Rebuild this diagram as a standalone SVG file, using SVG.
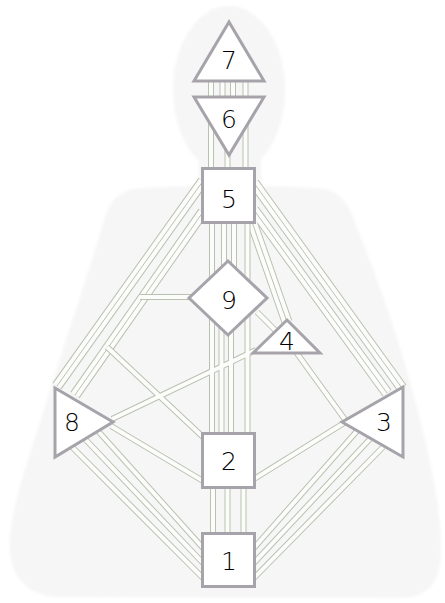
<svg xmlns="http://www.w3.org/2000/svg" xmlns:xlink="http://www.w3.org/1999/xlink" width="445" height="603" viewBox="0 0 445 603">
<defs>
<pattern id="dots" width="3" height="3" patternUnits="userSpaceOnUse">
<rect width="3" height="3" fill="#f8f8f8"/>
<rect x="1" y="1" width="1" height="1" fill="#e4e4e4"/>
</pattern>
<filter id="soft" x="-5%" y="-5%" width="110%" height="110%"><feGaussianBlur stdDeviation="1.5"/></filter>
<g id="singles">
<path d="M211 82V168M245.5 82V168M222.5 82V97M233 82V97M227.5 150V168"/>
<path d="M212 223V433M247.5 223V433M224 223V266M234 223V268M221.5 326V433M231 328V433"/>
<path d="M213 488V533M227.5 488V533M243.5 488V533"/>
<path d="M140 297H191M107 347L203 437M112 419L256 350M111 426L203 481M254 479L344 423M296 352L346 421M257 312L276 331"/>
<path d="M98 431L203 548M85 439L203 563M72 447L203 578M357 431L254 548M370 439L254 563M383 447L254 578"/>
</g>
<g id="doubles">
<path d="M203 181L57 386M203 212L75 395M254 183L402 388M254 210L387 393M252 222L287 322"/>
</g>
</defs>
<style>
.sil{fill:url(#dots)}
.edge{fill:none;stroke:#b9c2b1;stroke-width:6}
.core{fill:none;stroke:#fcfcfa;stroke-width:4}
.edge2{fill:none;stroke:#b9c2b1;stroke-width:11}
.core2{fill:none;stroke:#fcfcfa;stroke-width:9}
.mid2{fill:none;stroke:#b9c2b1;stroke-width:1}
.node{fill:#ffffff;stroke:#a7a3aa;stroke-width:3;stroke-linejoin:miter}
.lbl{font-family:"DejaVu Sans","Liberation Sans",sans-serif;font-weight:300;font-size:25px;fill:#000000;text-anchor:middle}
</style>
<g id="silhouette" filter="url(#soft)">
<ellipse class="sil" cx="229" cy="90" rx="56" ry="84"/>
<rect class="sil" x="199" y="140" width="62" height="52"/>
<path class="sil" d="M200 186L140 188Q112 190 104 220C88 275 67 335 47 400C32 450 12 500 10 540C8 575 25 596 60 597L400 598C430 598 442 580 441 545C440 500 428 450 415 400C397 330 372 265 354 220Q345 190 318 188L260 186Z"/>
</g>
<g id="connectors">
<use xlink:href="#doubles" class="edge2"/>
<use xlink:href="#doubles" class="core2"/>
<use xlink:href="#doubles" class="mid2"/>
<use xlink:href="#singles" class="edge"/>
<use xlink:href="#singles" class="core"/>
</g>
<g id="node7"><polygon class="node" points="229,22 264,81 194,81"/><text class="lbl" x="229" y="69">7</text></g>
<g id="node6"><polygon class="node" points="194,97 264,97 229,155"/><text class="lbl" x="229" y="128">6</text></g>
<g id="node5"><rect class="node" x="202.5" y="168.5" width="52" height="54"/><text class="lbl" x="229" y="208">5</text></g>
<g id="node9"><polygon class="node" points="228,261 267,298 228,335 189,298"/><text class="lbl" x="229" y="309">9</text></g>
<g id="node4"><polygon class="node" points="287,320 320,353 253,353"/><text class="lbl" x="287" y="350">4</text></g>
<g id="node8"><polygon class="node" points="55,388 113,422 55,457"/><text class="lbl" x="72" y="431">8</text></g>
<g id="node3"><polygon class="node" points="403,387 342,422 403,457"/><text class="lbl" x="384" y="431">3</text></g>
<g id="node2"><rect class="node" x="202.5" y="433.5" width="52" height="54"/><text class="lbl" x="229" y="470">2</text></g>
<g id="node1"><rect class="node" x="202.5" y="533.5" width="52" height="53"/><text class="lbl" x="229" y="570">1</text></g>
</svg>
